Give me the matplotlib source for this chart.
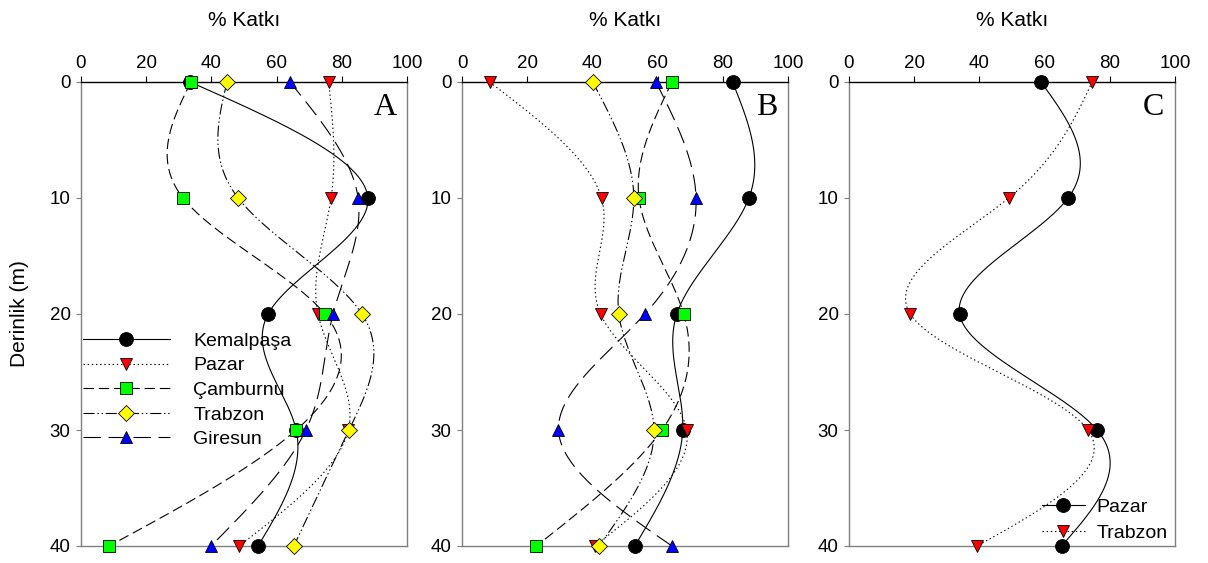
import numpy as np
import matplotlib
matplotlib.use('Agg')
import matplotlib.pyplot as plt
from matplotlib.lines import Line2D

plt.rcParams['font.family'] = ['Liberation Sans', 'DejaVu Sans']
plt.rcParams['lines.scale_dashes'] = False

# data (depth in m, contribution in %)
depth = [0, 10, 20, 30, 40]

a_kemalpasa = [33.5, 88, 57.4, 66, 54.3]
a_pazar = [76, 76.7, 72.7, 82, 48.5]
a_camburnu = [33.7, 31.3, 74.8, 66, 8.6]
a_trabzon = [44.8, 48.2, 86.2, 82.2, 65.3]
a_giresun = [64.1, 85, 77.3, 69, 39.9]

b_kemalpasa = [83, 88, 65.9, 67.7, 53]
b_pazar = [8.5, 42.8, 42.5, 68.9, 40.7]
b_camburnu = [64.4, 54.3, 68, 61.3, 22.8]
b_trabzon = [40.1, 52.7, 48.1, 58.9, 42]
b_giresun = [59.5, 71.8, 56.1, 29.6, 64.4]

c_pazar = [58.9, 67.2, 33.9, 76.1, 65.2]
c_trabzon = [74.6, 49, 18.8, 73.3, 39.3]

names_ab = ['Kemalpaşa', 'Pazar', 'Çamburnu', 'Trabzon', 'Giresun']
names_c = ['Pazar', 'Trabzon']

# styles: marker, face colour, size, dashes
sty = {
    'circle': ('o', 'black', 10, (None, None)),
    'tri_dn': ('v', 'red', 9, (1, 2)),
    'square': ('s', '#00ff00', 8, (7.5, 3.5)),
    'diamond': ('D', 'yellow', 8, (8, 2, 1, 2, 1, 2)),
    'tri_up': ('^', 'blue', 9, (12.5, 5.5)),
}
order_ab = ['circle', 'tri_dn', 'square', 'diamond', 'tri_up']
order_c = ['circle', 'tri_dn']


def nat_spline(t, v, n=300):
    # natural cubic spline v(t) for the smooth connecting curve
    t = np.asarray(t, float)
    v = np.asarray(v, float)
    k = len(t)
    h = np.diff(t)
    A = np.zeros((k, k))
    r = np.zeros(k)
    A[0, 0] = A[-1, -1] = 1
    for i in range(1, k - 1):
        A[i, i - 1] = h[i - 1]
        A[i, i] = 2 * (h[i - 1] + h[i])
        A[i, i + 1] = h[i]
        r[i] = 6 * ((v[i + 1] - v[i]) / h[i] - (v[i] - v[i - 1]) / h[i - 1])
    m = np.linalg.solve(A, r)
    tt = np.linspace(t[0], t[-1], n)
    j = np.clip(np.searchsorted(t, tt, side='right') - 1, 0, k - 2)
    hj = h[j]
    a = t[j + 1] - tt
    b = tt - t[j]
    vv = (m[j] * a ** 3 / (6 * hj) + m[j + 1] * b ** 3 / (6 * hj)
          + (v[j] / hj - m[j] * hj / 6) * a + (v[j + 1] / hj - m[j + 1] * hj / 6) * b)
    return tt, vv


def draw(ax, series, keys):
    for vals, key in zip(series, keys):
        mk, fc, ms, dash = sty[key]
        tt, vv = nat_spline(depth, vals)
        ln, = ax.plot(vv, tt, color='black', lw=0.8, zorder=2)
        if dash[0] is not None:
            ln.set_dashes(dash)
    for vals, key in zip(series, keys):
        mk, fc, ms, dash = sty[key]
        ax.plot(vals, depth, ls='none', marker=mk, mfc=fc, mec='black',
                mew=0.6, ms=ms, zorder=3, clip_on=False)


def handles(keys):
    out = []
    for key in keys:
        mk, fc, ms, dash = sty[key]
        h = Line2D([0], [0], color='black', lw=0.8, marker=mk, mfc=fc,
                   mec='black', mew=0.6, ms=ms)
        if dash[0] is not None:
            h.set_dashes(dash)
        out.append(h)
    return out


fig = plt.figure(figsize=(12.08, 5.63), dpi=100)
W, H = 1208, 563
lefts = [81, 462, 849]
axes = []
for l in lefts:
    ax = fig.add_axes([l / W, 1 - 546 / H, 326 / W, (546 - 82) / H])
    axes.append(ax)

draw(axes[0], [a_kemalpasa, a_pazar, a_camburnu, a_trabzon, a_giresun], order_ab)
draw(axes[1], [b_kemalpasa, b_pazar, b_camburnu, b_trabzon, b_giresun], order_ab)
draw(axes[2], [c_pazar, c_trabzon], order_c)

for ax, letter in zip(axes, ['A', 'B', 'C']):
    ax.set_xlim(0, 100)
    ax.set_ylim(40, 0)
    ax.xaxis.tick_top()
    ax.xaxis.set_label_position('top')
    ax.set_xticks(range(0, 101, 20))
    ax.set_yticks(range(0, 41, 10))
    ax.set_xlabel('% Katkı', fontsize=15, labelpad=21)
    ax.tick_params(axis='x', length=4.3, width=0.8, labelsize=13.5, pad=3)
    ax.tick_params(axis='y', length=3.5, width=0.8, labelsize=13.5, pad=4,
                   color='#808080')
    for s in ['left', 'right', 'bottom']:
        ax.spines[s].set_color('#808080')
        ax.spines[s].set_linewidth(1.0)
    ax.spines['top'].set_linewidth(1.0)
    ax.text(0.935, 0.946, letter, transform=ax.transAxes, ha='center',
            va='center', fontsize=23, family='Liberation Serif')

axes[0].set_ylabel('Derinlik (m)', fontsize=15, labelpad=15)

axes[0].legend(handles(order_ab), names_ab, loc='upper left',
               bbox_to_anchor=(0.005, 0.461), frameon=False, fontsize=14,
               handlelength=4.5, handletextpad=1.2, labelspacing=0.36,
               borderpad=0, borderaxespad=0, numpoints=1)
axes[2].legend(handles(order_c), names_c, loc='upper left',
               bbox_to_anchor=(0.592, 0.103), frameon=False, fontsize=14,
               handlelength=2.2, handletextpad=0.6, labelspacing=0.42,
               borderpad=0, borderaxespad=0, numpoints=1)

fig.savefig('out.png', dpi=100)
